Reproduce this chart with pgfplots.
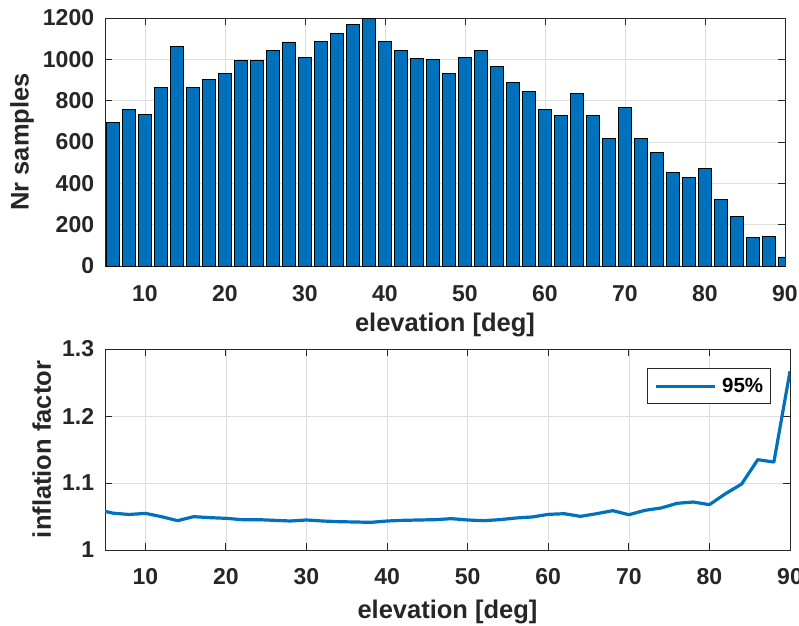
\documentclass[border=0pt]{standalone}
\usepackage{fontspec}
\setmainfont{Liberation Sans}
\usepackage{pgfplots}
\pgfplotsset{compat=1.18}
\definecolor{mlblue}{rgb}{0,0.447,0.741}
\definecolor{axgray}{rgb}{0.15,0.15,0.15}
\definecolor{gridgray}{rgb}{0.87,0.87,0.87}

\pgfplotsset{matlab/.style={
  scale only axis, anchor=south west,
  axis line style={axgray, line width=0.8pt},
  tick style={axgray, line width=0.8pt},
  major tick length=7pt, tick align=inside,
  xtick pos=both, ytick pos=both, xticklabel pos=lower, yticklabel pos=left,
  grid=major, major grid style={gridgray, line width=0.6pt},
  /pgf/number format/assume math mode=true,
  /pgf/number format/1000 sep={},
  ticklabel style={font=\fontsize{23}{26}\selectfont\bfseries, text=axgray, inner sep=0pt},
  yticklabel style={anchor=east, xshift=-10.7pt},
  label style={font=\fontsize{25.5}{28}\selectfont\bfseries, text=axgray, inner sep=0pt},
  xmin=5, xmax=90, xtick={10,20,...,90},
  xlabel={elevation [deg]},
}}

\begin{document}
\begin{tikzpicture}
% histogram of samples
\begin{axis}[matlab,
  at={(105pt,359pt)}, width=680pt, height=248pt,
  ymin=0, ymax=1200, ytick={0,200,...,1200},
  xticklabel style={anchor=north, yshift=-19pt},
  xlabel style={at={(axis description cs:0.5,0)}, anchor=base, yshift=-65.7pt},
  ylabel={Nr samples},
  ylabel style={at={(axis description cs:-0.122,0.5)}, anchor=center},
]
\addplot[ybar, bar width=1.6, fill=mlblue, draw=black, line width=0.8pt] coordinates {
  (6,694)(8,756)(10,735)(12,862)(14,1061)(16,866)(18,904)(20,930)
  (22,993)(24,995)(26,1043)(28,1084)(30,1009)(32,1087)(34,1127)(36,1168)
  (38,1198)(40,1087)(42,1043)(44,1005)(46,998)(48,933)(50,1009)(52,1042)
  (54,967)(56,888)(58,845)(60,759)(62,728)(64,835)(66,728)(68,617)
  (70,769)(72,617)(74,549)(76,452)(78,428)(80,470)(82,323)(84,241)
  (86,137)(88,142)(90,44)
};
\end{axis}

% inflation factor
\begin{axis}[matlab,
  at={(105pt,75pt)}, width=685pt, height=201pt,
  ymin=1, ymax=1.3, ytick={1,1.1,1.2,1.3},
  xticklabel style={anchor=north, yshift=-18pt},
  xlabel style={at={(axis description cs:0.5,0)}, anchor=base, yshift=-68.3pt},
  ylabel={inflation factor},
  ylabel style={at={(axis description cs:-0.0924,0.5)}, anchor=center},
  legend style={at={(rel axis cs:1,1)}, anchor=north east, xshift=-19.4pt, yshift=-19.3pt,
    draw=axgray, line width=0.8pt, fill=white, inner xsep=7pt, inner ysep=9.6pt,
    font=\fontsize{20.5}{22}\selectfont\bfseries, text=black,
    nodes={inner sep=0pt}, /tikz/every odd column/.append style={column sep=5.4pt}},
  legend image code/.code={\draw[#1] (0pt,0pt) -- (59pt,0pt);},
]
\addplot[mlblue, line width=3.2pt, line join=round] coordinates {
  (4,1.0605)(6,1.0550)(8,1.0530)(10,1.0547)(12,1.0498)(14,1.0438)(16,1.0498)
  (18,1.0483)(20,1.0473)(22,1.0453)(24,1.0453)(26,1.0443)(28,1.0433)(30,1.0448)
  (32,1.0433)(34,1.0423)(36,1.0418)(38,1.0413)(40,1.0433)(42,1.0443)(44,1.0448)
  (46,1.0453)(48,1.0468)(50,1.0448)(52,1.0438)(54,1.0453)(56,1.0478)(58,1.0493)
  (60,1.0532)(62,1.0542)(64,1.0502)(66,1.0542)(68,1.0587)(70,1.0527)(72,1.0592)
  (74,1.0627)(76,1.0697)(78,1.0716)(80,1.0677)(82,1.0841)(84,1.0985)(86,1.1348)
  (88,1.1313)(90,1.2667)
};
\addlegendentry{95\%}
\end{axis}

\pgfresetboundingbox
\useasboundingbox (0pt,0pt) rectangle (799pt,625pt);
\end{tikzpicture}
\end{document}
